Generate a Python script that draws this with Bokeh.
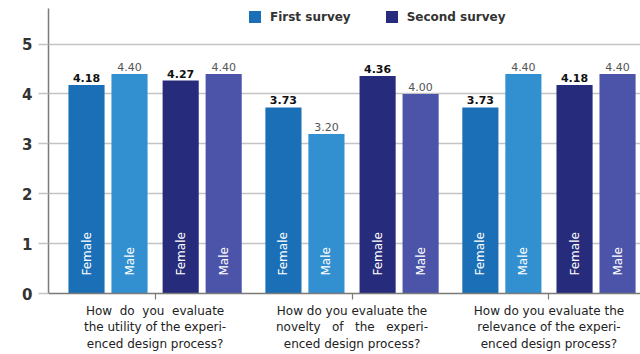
import math
from bokeh.plotting import figure
from bokeh.models import Range1d, FixedTicker, Legend, LegendItem, ColumnDataSource
from bokeh.core.properties import value
from bokeh.embed import file_html
from bokeh.resources import INLINE

NB = "\u00a0"

# ---- data ----
questions = [
    f"How{NB}{NB}do{NB}{NB}you{NB}{NB}evaluate\nthe utility of the experi-\nenced design process?",
    f"How do you evaluate the\nnovelty{NB}{NB}{NB}of{NB}{NB}{NB}the{NB}{NB}{NB}experi-\nenced design process?",
    "How do you evaluate the\nrelevance of the experi-\nenced design process?",
]
surveys = ["First survey", "Second survey"]
genders = ["Female", "Male"]
first_female = [4.18, 3.73, 3.73]
first_male = [4.40, 3.20, 4.40]
second_female = [4.27, 4.36, 4.18]
second_male = [4.40, 4.00, 4.40]
y_ticks = [0, 1, 2, 3, 4, 5]

# ---- layout constants ----
GENDER_STEP = 1.0
SURVEY_STEP = 2.19
GROUP_STEP = 4.58
BAR_W = 0.84
colors = {("First survey", "Female"): "#1a6fb6",
          ("First survey", "Male"): "#3290d0",
          ("Second survey", "Female"): "#262b7b",
          ("Second survey", "Male"): "#4b54a8"}
series = {("First survey", "Female"): first_female,
          ("First survey", "Male"): first_male,
          ("Second survey", "Female"): second_female,
          ("Second survey", "Male"): second_male}

FONT = "DejaVu Sans"

p = figure(width=640, height=354, output_backend="svg", toolbar_location=None,
           x_range=Range1d(-0.884, 12.884), y_range=Range1d(0, 5.714),
           min_border_left=48, min_border_right=0, min_border_top=8,
           min_border_bottom=58, outline_line_color=None)
p.background_fill_color = "white"
p.border_fill_color = "white"

renderers = {}
for si, s in enumerate(surveys):
    for gi, g in enumerate(genders):
        vals = series[(s, g)]
        xs = [qi * GROUP_STEP + si * SURVEY_STEP + gi * GENDER_STEP for qi in range(len(questions))]
        src = ColumnDataSource(dict(x=xs, top=vals,
                                    lab=[f"{v:.2f}" for v in vals],
                                    gname=[g] * len(vals)))
        r = p.vbar(x="x", top="top", width=BAR_W, source=src,
                   fill_color=colors[(s, g)], line_color=None)
        renderers[(s, g)] = r
        # value labels
        if g == "Female":
            p.text(x="x", y="top", text="lab", source=src, text_align="center",
                   text_baseline="bottom", y_offset=-3, text_font=value(FONT),
                   text_font_style="bold", text_font_size="11px", text_color="#111111")
        else:
            p.text(x="x", y="top", text="lab", source=src, text_align="center",
                   text_baseline="bottom", y_offset=-3, text_font=value(FONT),
                   text_font_style="normal", text_font_size="11px", text_color="#555555")
        # inner vertical gender labels
        p.text(x="x", y=0.36, text="gname", source=src, angle=math.pi / 2,
               text_align="left", text_baseline="middle", text_font=value(FONT),
               text_font_size="12px", text_color="white")

# ---- axes ----
group_centers = [qi * GROUP_STEP + (SURVEY_STEP + GENDER_STEP) / 2 for qi in range(len(questions))]
xa = p.xaxis[0]
xa.ticker = FixedTicker(ticks=group_centers)
xa.major_label_overrides = {c: q for c, q in zip(group_centers, questions)}
xa.axis_line_color = "#7a7a7a"
xa.axis_line_width = 1.5
xa.major_tick_line_color = "#7a7a7a"
xa.major_tick_line_width = 1.2
xa.major_tick_in = 0
xa.major_tick_out = 6
xa.minor_tick_line_color = None
xa.major_label_text_font = FONT
xa.major_label_text_font_size = "12px"
xa.major_label_text_color = "#222222"
xa.major_label_standoff = 4

ya = p.yaxis[0]
ya.ticker = FixedTicker(ticks=y_ticks)
ya.axis_line_color = "#7a7a7a"
ya.axis_line_width = 1.5
ya.major_tick_line_color = "#c4c4c4"
ya.major_tick_line_width = 1.5
ya.major_tick_in = 0
ya.major_tick_out = 10
ya.minor_tick_line_color = None
ya.major_label_text_font = FONT
ya.major_label_text_font_size = "15px"
ya.major_label_text_font_style = "bold"
ya.major_label_text_color = "#333333"
ya.major_label_standoff = 6

p.xgrid.grid_line_color = None
p.ygrid.ticker = FixedTicker(ticks=y_ticks)
p.ygrid.grid_line_color = "#c4c4c4"
p.ygrid.grid_line_width = 1.5

# ---- legend ----
legend = Legend(items=[LegendItem(label=s, renderers=[renderers[(s, "Female")]]) for s in surveys],
                location=(199, 269), orientation="horizontal",
                background_fill_alpha=0, border_line_color=None,
                glyph_width=15, glyph_height=15, label_height=15,
                label_standoff=8, spacing=33, padding=0, margin=0,
                label_text_font=FONT, label_text_font_style="bold",
                label_text_font_size="12px", label_text_color="#333333")
p.add_layout(legend, "center")

open("out.html", "w").write(file_html(p, INLINE))
